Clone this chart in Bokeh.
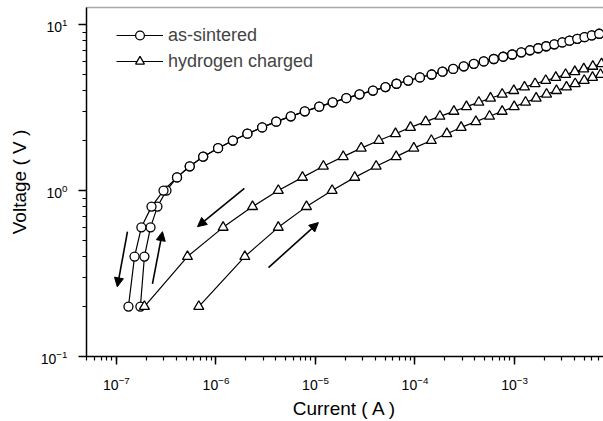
from bokeh.plotting import figure
from bokeh.models import (Legend, LegendItem, Arrow, NormalHead, Range1d,
                          LogAxis, FixedTicker, LogTickFormatter)
from bokeh.embed import file_html
from bokeh.resources import INLINE

# ---------------- data ----------------
# as-sintered: voltage steps of 0.2 V
sint_voltage = [0.2, 0.4, 0.6, 0.8, 1.0, 1.2, 1.4, 1.6, 1.8, 2.0, 2.2, 2.4, 2.6, 2.8,
                3.0, 3.2, 3.4, 3.6, 3.8, 4.0, 4.2, 4.4, 4.6, 4.8, 5.0, 5.2, 5.4, 5.6,
                5.8, 6.0, 6.2, 6.4, 6.6, 6.8, 7.0, 7.2, 7.4, 7.6, 7.8, 8.0, 8.2, 8.4,
                8.6, 8.8]
# low-voltage part of the increasing sweep (0.2 .. 1.0 V)
sint_up_low = [1.74e-7, 1.91e-7, 2.20e-7, 2.58e-7, 3.18e-7]
# low-voltage part of the decreasing sweep (0.2 .. 1.0 V)
sint_down_low = [1.32e-7, 1.52e-7, 1.78e-7, 2.25e-7, 2.97e-7]
# common part (1.2 .. 8.8 V)
sint_common = [4.06e-7, 5.45e-7, 7.44e-7, 1.05e-6, 1.48e-6, 2.07e-6, 2.91e-6,
               4.03e-6, 5.65e-6, 7.81e-6, 1.09e-5, 1.49e-5, 2.04e-5, 2.77e-5,
               3.78e-5, 5.05e-5, 6.52e-5, 8.54e-5, 1.12e-4, 1.47e-4, 1.89e-4,
               2.42e-4, 3.09e-4, 3.90e-4, 4.91e-4, 6.19e-4, 7.70e-4, 9.48e-4,
               1.17e-3, 1.43e-3, 1.73e-3, 2.08e-3, 2.51e-3, 3.02e-3, 3.57e-3,
               4.27e-3, 5.05e-3, 5.98e-3, 7.10e-3]

# hydrogen charged, decreasing sweep (upper branch), 0.2 .. 5.8 V
h_down_voltage = [0.2, 0.4, 0.6, 0.8, 1.0, 1.2, 1.4, 1.6, 1.8, 2.0, 2.2, 2.4, 2.6,
                  2.8, 3.0, 3.2, 3.4, 3.6, 3.8, 4.0, 4.2, 4.4, 4.6, 4.8, 5.0, 5.2,
                  5.4, 5.6, 5.8]
h_down_current = [1.91e-7, 5.17e-7, 1.18e-6, 2.33e-6, 4.23e-6, 7.40e-6, 1.20e-5,
                  1.90e-5, 2.88e-5, 4.33e-5, 6.37e-5, 9.01e-5, 1.28e-4, 1.78e-4,
                  2.46e-4, 3.29e-4, 4.38e-4, 5.74e-4, 7.52e-4, 9.84e-4, 1.26e-3,
                  1.61e-3, 2.06e-3, 2.60e-3, 3.26e-3, 4.04e-3, 4.97e-3, 6.12e-3,
                  7.49e-3]
# hydrogen charged, increasing sweep (lower branch), 0.2 .. 5.0 V
h_up_voltage = [0.2, 0.4, 0.6, 0.8, 1.0, 1.2, 1.4, 1.6, 1.8, 2.0, 2.2, 2.4, 2.6,
                2.8, 3.0, 3.2, 3.4, 3.6, 3.8, 4.0, 4.2, 4.4, 4.6, 4.8, 5.0]
h_up_current = [6.72e-7, 1.95e-6, 4.23e-6, 8.12e-6, 1.47e-5, 2.48e-5, 4.07e-5,
                6.47e-5, 9.73e-5, 1.46e-4, 2.09e-4, 2.91e-4, 4.09e-4, 5.61e-4,
                7.52e-4, 9.93e-4, 1.29e-3, 1.65e-3, 2.10e-3, 2.64e-3, 3.33e-3,
                4.07e-3, 5.02e-3, 6.08e-3, 7.32e-3]

# sweep-direction arrows: (I_start, V_start, I_end, V_end)
arrows = [
    (1.29e-7, 0.565, 1.02e-7, 0.263),
    (2.30e-7, 0.274, 2.90e-7, 0.565),
    (1.93e-6, 1.03, 6.52e-7, 0.606),
    (3.37e-6, 0.343, 1.07e-5, 0.641),
]

x_label = "Current ( A )"
y_label = "Voltage ( V )"
FONT = "Liberation Sans"
X_MIN, X_MAX = 5e-8, 7.84e-3
Y_MIN, Y_TOP = 0.1, 12.67

sint_up = sint_up_low + sint_common
sint_down = sint_down_low + sint_common

# ---------------- figure ----------------
p = figure(width=603, height=421, x_axis_type="log", y_axis_type="log",
           x_range=Range1d(X_MIN, X_MAX), y_range=Range1d(Y_MIN, Y_TOP),
           output_backend="svg", toolbar_location=None,
           min_border_left=86, min_border_right=0, min_border_top=7,
           min_border_bottom=0)
p.outline_line_color = None
p.xgrid.visible = False
p.ygrid.visible = False

for ax in (p.xaxis[0], p.yaxis[0]):
    ax.formatter = LogTickFormatter()
    ax.axis_line_width = 1.5
    ax.axis_line_color = "black"
    ax.major_tick_out = 8
    ax.major_tick_in = 0
    ax.minor_tick_out = 4
    ax.minor_tick_in = 0
    ax.major_tick_line_width = 1.5
    ax.minor_tick_line_width = 1.2
    ax.major_label_text_font = FONT
    ax.major_label_text_font_size = "14px"
    ax.major_label_text_color = "black"
    ax.axis_label_text_font = FONT
    ax.axis_label_text_font_size = "19px"
    ax.axis_label_text_font_style = "normal"
    ax.axis_label_text_color = "black"

p.xaxis.axis_label = x_label
p.yaxis.axis_label = y_label
p.xaxis.major_label_standoff = 11
p.xaxis.axis_label_standoff = 5
p.yaxis.major_label_standoff = 11
p.yaxis.axis_label_standoff = 8

# top frame line (light gray), as an unlabeled axis
top = LogAxis(ticker=FixedTicker(ticks=[]), major_tick_out=0, major_tick_in=0,
              minor_tick_out=0, minor_tick_in=0, major_label_text_font_size="0px",
              major_label_standoff=0, axis_line_color="#a8a8a8", axis_line_width=1.5)
p.add_layout(top, "above")

# ---------------- series ----------------
l1 = p.line(sint_up, sint_voltage, line_color="black", line_width=1.2)
l2 = p.line(sint_down, sint_voltage, line_color="black", line_width=1.2)
s1 = p.scatter(sint_up, sint_voltage, marker="circle", size=9, fill_color="white",
               line_color="black", line_width=1.3)
s2 = p.scatter(sint_down, sint_voltage, marker="circle", size=9, fill_color="white",
               line_color="black", line_width=1.3)

l3 = p.line(h_down_current, h_down_voltage, line_color="black", line_width=1.2)
l4 = p.line(h_up_current, h_up_voltage, line_color="black", line_width=1.2)
s3 = p.scatter(h_down_current, h_down_voltage, marker="triangle", size=10,
               fill_color="white", line_color="black", line_width=1.3)
s4 = p.scatter(h_up_current, h_up_voltage, marker="triangle", size=10,
               fill_color="white", line_color="black", line_width=1.3)

for (xs, ys, xe, ye) in arrows:
    p.add_layout(Arrow(x_start=xs, y_start=ys, x_end=xe, y_end=ye, line_width=1.6,
                       line_color="black",
                       end=NormalHead(size=9, fill_color="black", line_color="black",
                                      line_width=1)))

legend = Legend(items=[LegendItem(label="as-sintered", renderers=[l1, s1]),
                       LegendItem(label="hydrogen charged", renderers=[l3, s3])],
                location=(30, 284), glyph_width=47, glyph_height=22,
                label_height=22, spacing=4, padding=0, margin=0,
                border_line_color=None, background_fill_alpha=0,
                label_text_font=FONT, label_text_font_size="18px",
                label_standoff=5)
p.add_layout(legend)

open("out.html", "w").write(file_html(p, INLINE))
